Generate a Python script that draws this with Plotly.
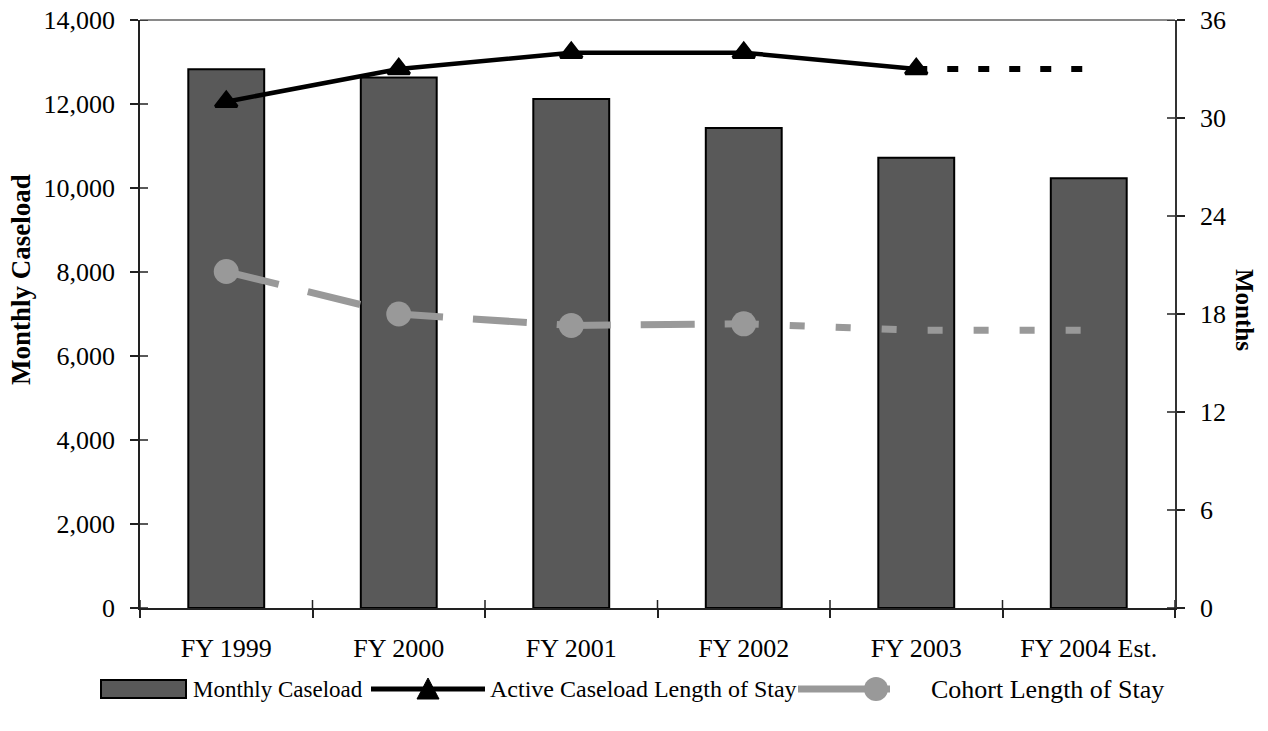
import plotly.graph_objects as go

# ---- data ----
years = ["FY 1999", "FY 2000", "FY 2001", "FY 2002", "FY 2003", "FY 2004 Est."]
monthly_caseload = [12830, 12630, 12120, 11430, 10720, 10230]
active_los = [31, 33, 34, 34, 33, None]          # actual
active_los_est = [None, None, None, None, 33, 33]  # projected
cohort_los = [20.6, 18.0, 17.3, 17.4, None, None]  # actual
cohort_los_est = [None, None, None, 17.4, 17.0, 17.0]  # projected
caseload_ticks = [0, 2000, 4000, 6000, 8000, 10000, 12000, 14000]
months_ticks = [0, 6, 12, 18, 24, 30, 36]

FONT = "Liberation Serif, Times New Roman, serif"
BAR = "#595959"
GREY = "#999999"

W, H = 1268, 731
ML, MR, MT, MB = 140, 93, 20, 123
PW, PH = W - ML - MR, H - MT - MB


def px(x):
    return (x - ML) / PW


def py(y):
    return (H - MB - y) / PH


fig = go.Figure()

fig.add_trace(go.Bar(
    x=years, y=monthly_caseload, name="Monthly Caseload",
    marker=dict(color=BAR, line=dict(color="black", width=2)),
    width=0.44, yaxis="y",
))

fig.add_trace(go.Scatter(
    x=years, y=cohort_los_est, mode="lines", yaxis="y2",
    line=dict(color=GREY, width=7, dash="15px,31px"),
))
fig.add_trace(go.Scatter(
    x=years, y=cohort_los, mode="lines+markers", yaxis="y2",
    name="Cohort Length of Stay",
    line=dict(color=GREY, width=7, dash="54px,30px"),
    marker=dict(symbol="circle", size=25, color=GREY),
))
fig.add_trace(go.Scatter(
    x=years, y=active_los_est, mode="lines", yaxis="y2",
    line=dict(color="black", width=6, dash="11px,20px"),
))
fig.add_trace(go.Scatter(
    x=years, y=active_los, mode="lines+markers", yaxis="y2",
    name="Active Caseload Length of Stay",
    line=dict(color="black", width=4.5),
    marker=dict(symbol="triangle-up", size=19, color="black",
                line=dict(color="black", width=3)),
))

tickfont = dict(family=FONT, size=26, color="black")

fig.update_layout(
    width=W, height=H,
    margin=dict(l=ML, r=MR, t=MT, b=MB, autoexpand=False),
    paper_bgcolor="white", plot_bgcolor="white",
    showlegend=False,
    font=dict(family=FONT, color="black"),
    xaxis=dict(
        type="category", categoryorder="array", categoryarray=years,
        range=[-0.5, len(years) - 0.5], automargin=False,
        tickson="boundaries", ticks="outside", ticklen=8, tickwidth=1.5,
        tickcolor="#222", showline=True, linecolor="#222", linewidth=1.5,
        showgrid=False, zeroline=False, tickfont=tickfont,
        ticklabelstandoff=16,
    ),
    yaxis=dict(
        range=[0, 14000], tickvals=caseload_ticks, tickformat=",",
        automargin=False,
        ticks="outside", ticklen=8, tickwidth=1.5, tickcolor="#222",
        showline=True, linecolor="#222", linewidth=1.5,
        showgrid=False, zeroline=False, tickfont=tickfont,
        ticklabelstandoff=10,
    ),
    yaxis2=dict(
        overlaying="y", side="right", range=[0, 36], tickvals=months_ticks,
        automargin=False,
        ticks="outside", ticklen=8, tickwidth=1.5, tickcolor="#222",
        showline=True, linecolor="#333", linewidth=1.5,
        showgrid=False, zeroline=False, tickfont=tickfont,
        ticklabelstandoff=10,
    ),
)

shapes = []
# top frame line
shapes.append(dict(type="line", xref="paper", yref="paper", x0=0, x1=1, y0=1, y1=1,
                   line=dict(color="#8a8a8a", width=2)))
# inner halves of the crossing tick marks
for v in caseload_ticks:
    shapes.append(dict(type="line", xref="paper", yref="y", xsizemode="pixel", xanchor=0,
                       x0=0, x1=8, y0=v, y1=v, line=dict(color="#222", width=1.5)))
for v in months_ticks:
    shapes.append(dict(type="line", xref="paper", yref="y2", xsizemode="pixel", xanchor=1,
                       x0=-8, x1=0, y0=v, y1=v, line=dict(color="#222", width=1.5)))
for i in range(len(years) + 1):
    shapes.append(dict(type="line", xref="x", yref="paper", ysizemode="pixel", yanchor=0,
                       x0=i - 0.5, x1=i - 0.5, y0=0, y1=8, line=dict(color="#222", width=1.5)))

# legend
LY = 689
shapes.append(dict(type="rect", xref="paper", yref="paper",
                   x0=px(101), x1=px(186), y0=py(LY + 9), y1=py(LY - 9),
                   fillcolor=BAR, line=dict(color="black", width=2)))
shapes.append(dict(type="line", xref="paper", yref="paper",
                   x0=px(371), x1=px(485), y0=py(LY), y1=py(LY),
                   line=dict(color="black", width=5)))
tri = "M {},{} L {},{} L {},{} Z".format(px(417), py(LY + 10), px(439), py(LY + 10),
                                         px(428), py(LY - 11))
shapes.append(dict(type="path", xref="paper", yref="paper", path=tri,
                   fillcolor="black", line=dict(color="black", width=1)))
shapes.append(dict(type="line", xref="paper", yref="paper",
                   x0=px(798), x1=px(890), y0=py(LY), y1=py(LY),
                   line=dict(color=GREY, width=7)))
shapes.append(dict(type="circle", xref="paper", yref="paper",
                   x0=px(864), x1=px(888), y0=py(LY + 12), y1=py(LY - 12),
                   fillcolor=GREY, line=dict(color=GREY, width=0)))

annotations = [
    dict(text="<b>Monthly Caseload</b>", xref="paper", yref="paper",
         x=px(21), y=py(280), textangle=-90, showarrow=False,
         xanchor="center", yanchor="middle", font=dict(family=FONT, size=27)),
    dict(text="<b>Months</b>", xref="paper", yref="paper",
         x=px(1245), y=py(310), textangle=90, showarrow=False,
         xanchor="center", yanchor="middle", font=dict(family=FONT, size=25)),
]
for label, x0, size in [("Monthly Caseload", 191, 23),
                        ("Active Caseload Length of Stay", 488, 24),
                        ("Cohort Length of Stay", 929, 26)]:
    annotations.append(dict(text=label, xref="paper", yref="paper", x=px(x0), y=py(LY),
                            xanchor="left", yanchor="middle", showarrow=False,
                            font=dict(family=FONT, size=size)))

fig.update_layout(shapes=shapes, annotations=annotations)

fig.write_html("out.html")
